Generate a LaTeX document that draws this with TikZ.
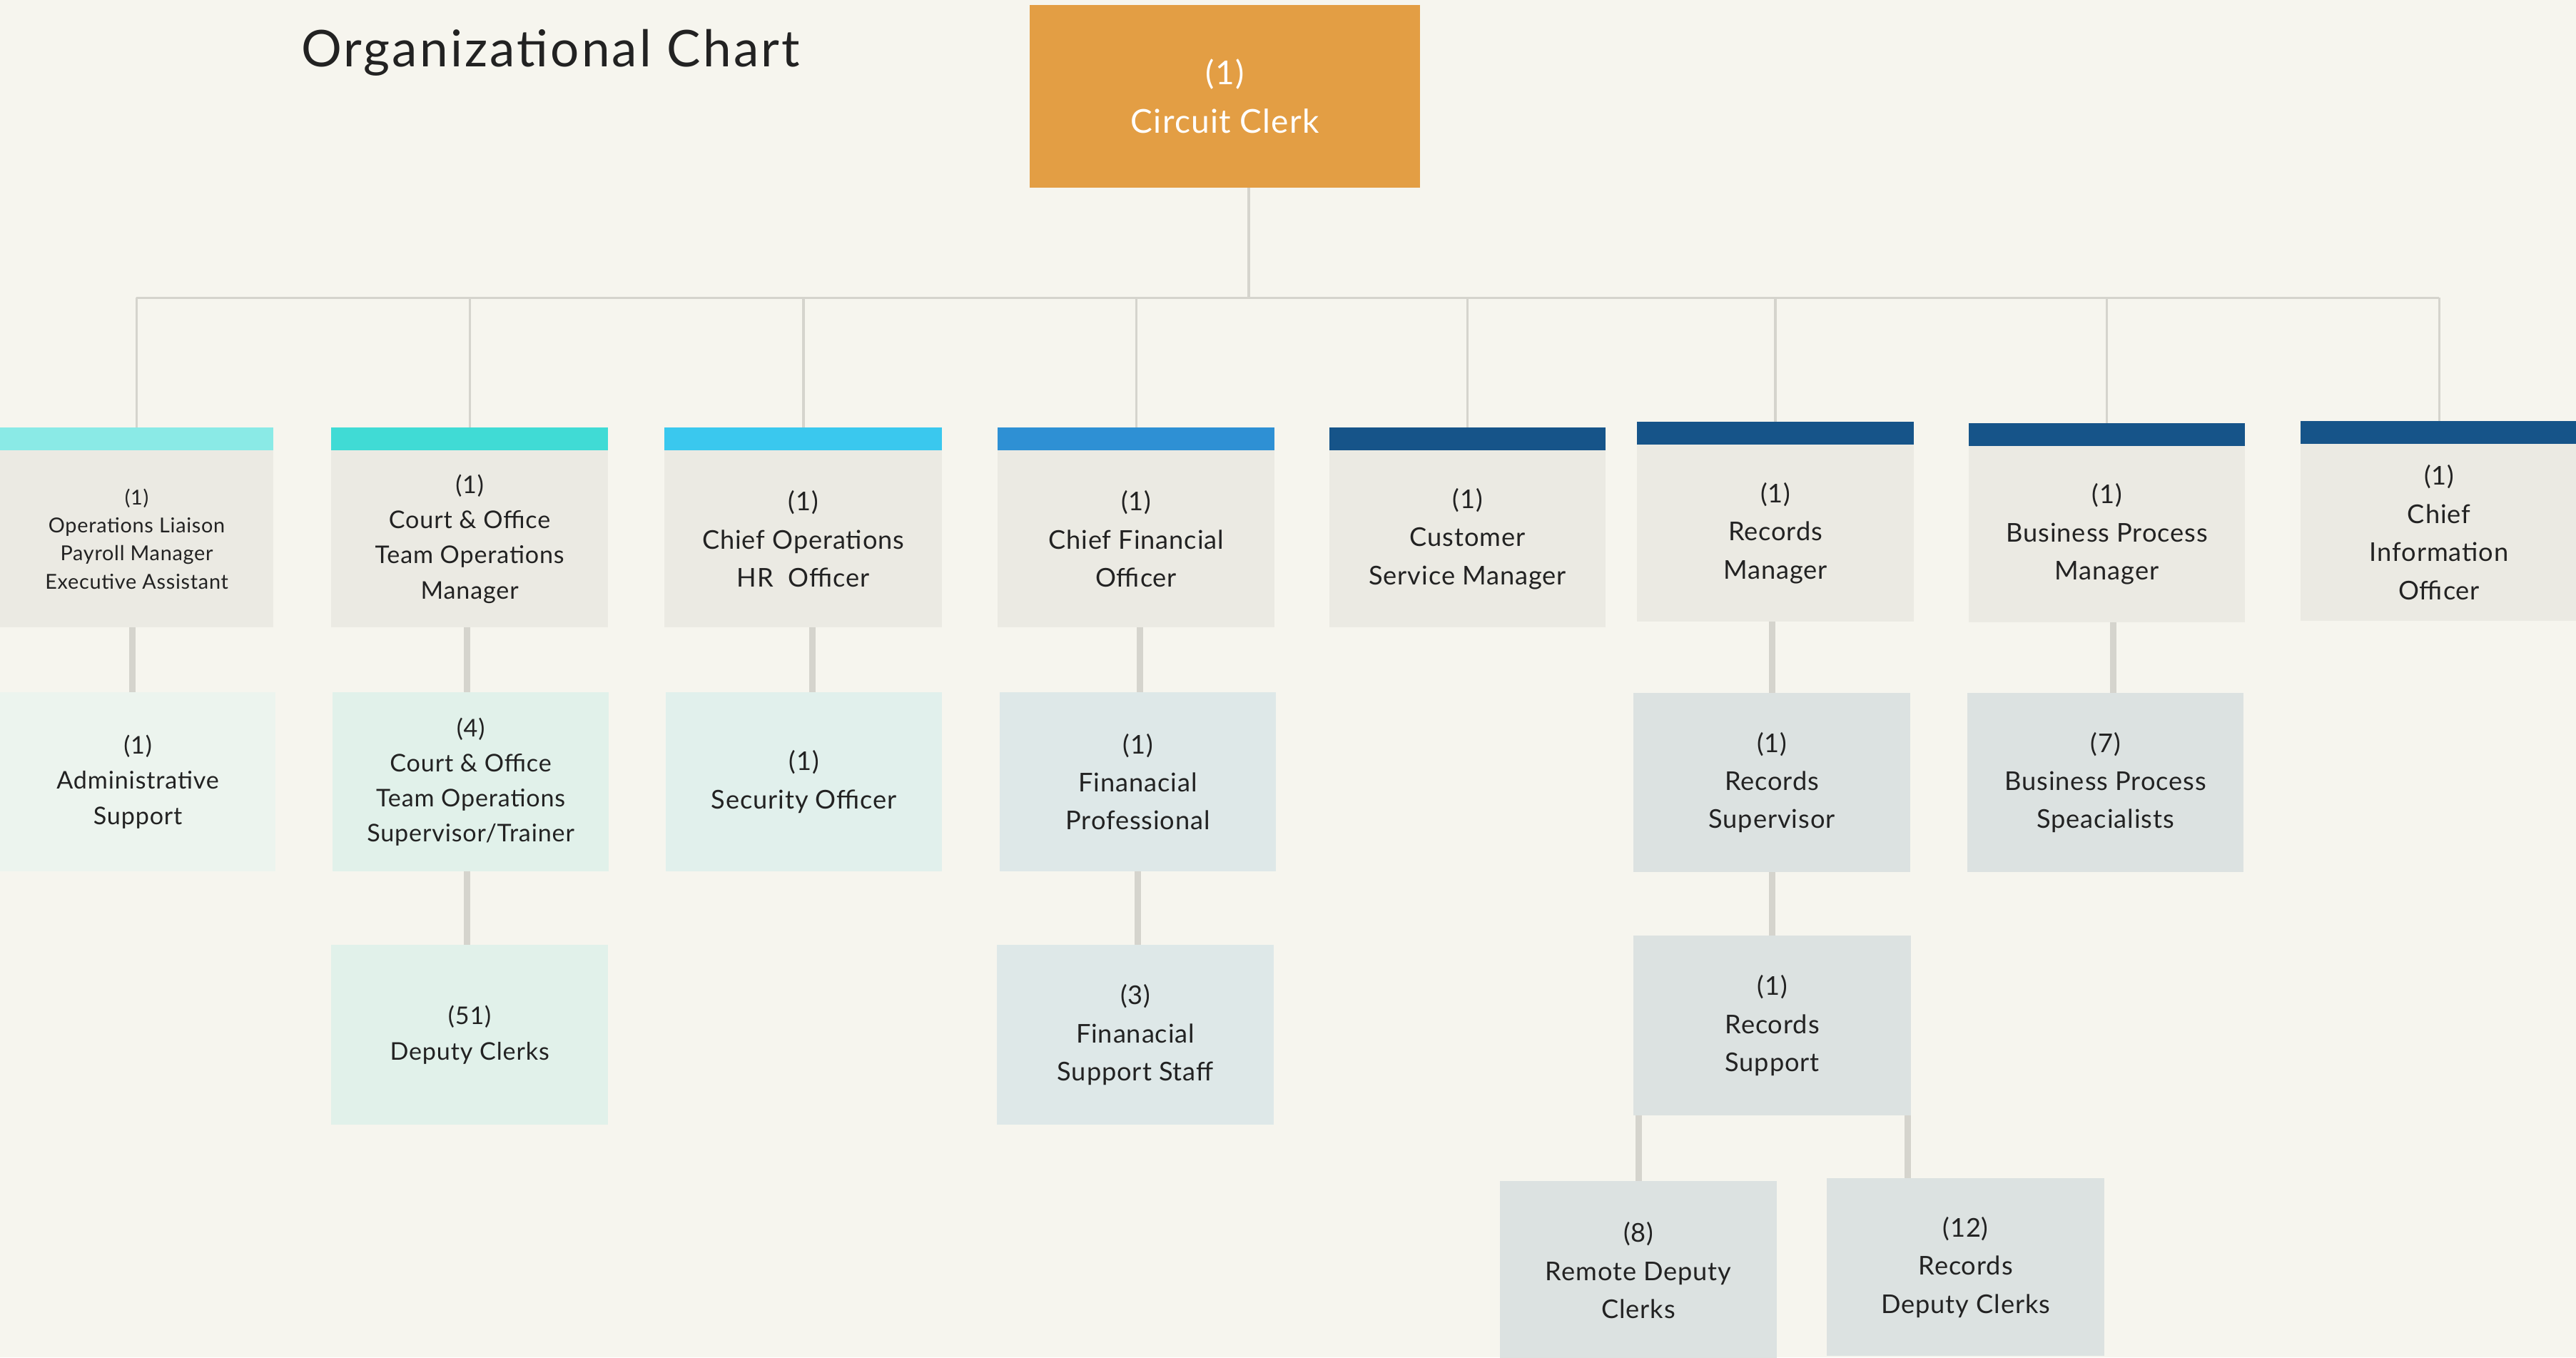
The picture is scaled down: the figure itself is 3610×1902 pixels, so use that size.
\documentclass[tikz,border=0pt]{standalone}
\usepackage{fontspec}
\setmainfont{Lato}[LetterSpace=2.5]
\newfontfamily\titlefont{Lato}[LetterSpace=4.5]
\definecolor{bgc}{HTML}{F6F5EE}
\definecolor{ccc}{HTML}{E39E44}
\definecolor{hA}{HTML}{8AEAE6}
\definecolor{hB}{HTML}{40DBD5}
\definecolor{hC}{HTML}{3AC8EE}
\definecolor{hD}{HTML}{2E90D4}
\definecolor{hE}{HTML}{165489}
\definecolor{bodyc}{HTML}{EBEAE3}
\definecolor{fAdm}{HTML}{ECF4EE}
\definecolor{fMint}{HTML}{E1F1EA}
\definecolor{fSec}{HTML}{E1F0EC}
\definecolor{fFin}{HTML}{DEE8E8}
\definecolor{fRec}{HTML}{DCE2E1}
\definecolor{linec}{HTML}{D5D4CD}
\definecolor{txt}{HTML}{222222}
\newcommand\rbox[7]{%
  \pgfmathsetmacro\rbw{(#4-#2)/100}%
  \pgfmathsetmacro\rbh{(#5-#3)/100}%
  \node[#6, minimum width=\rbw cm, minimum height=\rbh cm, anchor=north west] (#1) at (#2,#3) {#7};}
\tikzset{
  every node/.style={inner sep=0pt, outer sep=0pt},
  hdr/.style={rectangle, draw=none},
  tA/.style={align=center, text=txt, font=\fontsize{10.3}{15.2}\selectfont},
  tB/.style={align=center, text=txt, font=\fontsize{9.7}{14.0}\selectfont},
  tS/.style={align=center, text=txt, font=\fontsize{8.2}{11.2}\selectfont},
  ccs/.style={rectangle, fill=ccc, align=center, text=white, font=\fontsize{13.1}{19.3}\selectfont},
  titlestyle/.style={text=txt, font=\titlefont\fontsize{20.2}{24}\selectfont},
  thinline/.style={draw=linec, line width=0.03cm},
  midline/.style={draw=linec, line width=0.04cm},
  thickline/.style={draw=linec, line width=0.09cm},
}
\begin{document}
\begin{tikzpicture}[x=0.01cm,y=-0.01cm]
\useasboundingbox (0,0) rectangle (3610,1902);
\fill[bgc] (0,0) rectangle (3610,1902);
\clip (0,0) rectangle (3610,1902);

% title
\node[titlestyle, anchor=base west] (title) at (422,93) {Organizational Chart};

% top
\rbox{cc}{1443}{7}{1990}{263}{ccs}{(1)\\Circuit Clerk}

% first row: headers and bodies
\rbox{h1}{0}{599}{383}{631}{hdr, fill=hA}{}
\rbox{b1}{0}{631}{383}{879}{fill=bodyc, tS}{(1)\\Operations Liaison\\Payroll Manager\\Executive Assistant}
\rbox{h2}{464}{599}{852}{631}{hdr, fill=hB}{}
\rbox{b2}{464}{631}{852}{879}{fill=bodyc, tB}{(1)\\Court \& Office\\Team Operations\\Manager}
\rbox{h3}{931}{599}{1320}{631}{hdr, fill=hC}{}
\rbox{b3}{931}{631}{1320}{879}{fill=bodyc, tA}{(1)\\Chief Operations\\HR~~Officer}
\rbox{h4}{1398}{599}{1786}{631}{hdr, fill=hD}{}
\rbox{b4}{1398}{631}{1786}{879}{fill=bodyc, tA}{(1)\\Chief Financial\\Officer}
\rbox{h5}{1863}{599}{2250}{631}{hdr, fill=hE}{}
\rbox{b5}{1863}{631}{2250}{879}{fill=bodyc, tA}{(1)\\Customer\\Service Manager}
\rbox{h6}{2294}{591}{2682}{623}{hdr, fill=hE}{}
\rbox{b6}{2294}{623}{2682}{871}{fill=bodyc, tA}{(1)\\Records\\Manager}
\rbox{h7}{2759}{593}{3146}{625}{hdr, fill=hE}{}
\rbox{b7}{2759}{625}{3146}{872}{fill=bodyc, tA}{(1)\\Business Process\\Manager}
\rbox{h8}{3224}{590}{3612}{622}{hdr, fill=hE}{}
\rbox{b8}{3224}{622}{3612}{870}{fill=bodyc, tA}{(1)\\Chief\\Information\\Officer}

% second row
\rbox{adm}{0}{970}{386}{1221}{fill=fAdm, tB}{(1)\\Administrative\\Support}
\rbox{csup}{466}{970}{853}{1221}{fill=fMint, tB}{(4)\\Court \& Office\\Team Operations\\Supervisor/Trainer}
\rbox{sec}{933}{970}{1320}{1221}{fill=fSec, tA}{(1)\\Security Officer}
\rbox{fprof}{1401}{970}{1788}{1221}{fill=fFin, tA}{(1)\\Finanacial\\Professional}
\rbox{rsup}{2289}{971}{2677}{1222}{fill=fRec, tA}{(1)\\Records\\Supervisor}
\rbox{bps}{2757}{971}{3144}{1222}{fill=fRec, tA}{(7)\\Business Process\\Speacialists}

% third row
\rbox{dep}{464}{1324}{852}{1576}{fill=fMint, tB}{(51)\\Deputy Clerks}
\rbox{fsup}{1397}{1324}{1785}{1576}{fill=fFin, tA}{(3)\\Finanacial\\Support Staff}
\rbox{rsupp}{2289}{1311}{2678}{1563}{fill=fRec, tA}{(1)\\Records\\Support}

% fourth row
\rbox{remote}{2102}{1655}{2490}{1905}{fill=fRec, tA}{(8)\\Remote Deputy\\Clerks}
\rbox{rdc}{2560}{1651}{2949}{1900}{fill=fRec, tA}{(12)\\Records\\Deputy Clerks}

% bus
\coordinate (busL) at (191,417);
\coordinate (busR) at (3418,417);
\draw[midline] ([xshift=0.33cm]cc.south) -- ([xshift=0.33cm]cc.south |- busL);
\draw[thinline] (busL) -- (busR);
\foreach \h in {h1,h2,h4,h5,h7,h8}{
  \draw[thinline] (\h.north) -- (\h.north |- busL);
}
\foreach \h in {h3,h6}{
  \draw[midline] (\h.north) -- (\h.north |- busL);
}

% first row to second row
\draw[thickline] ([xshift=-0.06cm]b1.south) -- ([xshift=-0.06cm]b1.south |- adm.north);
\draw[thickline] ([xshift=-0.04cm]b2.south) -- ([xshift=-0.04cm]b2.south |- csup.north);
\draw[thickline] ([xshift=0.13cm]b3.south) -- ([xshift=0.13cm]b3.south |- sec.north);
\draw[thickline] ([xshift=0.05cm]b4.south) -- ([xshift=0.05cm]b4.south |- fprof.north);
\draw[thickline] ([xshift=-0.05cm]b6.south) -- ([xshift=-0.05cm]b6.south |- rsup.north);
\draw[thickline] ([xshift=0.09cm]b7.south) -- ([xshift=0.09cm]b7.south |- bps.north);

% second row to third row
\draw[thickline] ([xshift=-0.05cm]csup.south) -- ([xshift=-0.05cm]csup.south |- dep.north);
\draw[thickline] (fprof.south) -- (fprof.south |- fsup.north);
\draw[thickline] (rsup.south) -- (rsup.south |- rsupp.north);

% records support to fourth row
\draw[thickline] (remote.north |- rsupp.south) -- (remote.north);
\draw[thickline] ([xshift=-0.05cm]rsupp.south east) -- ([xshift=-0.05cm]rsupp.south east |- rdc.north);
\end{tikzpicture}
\end{document}
